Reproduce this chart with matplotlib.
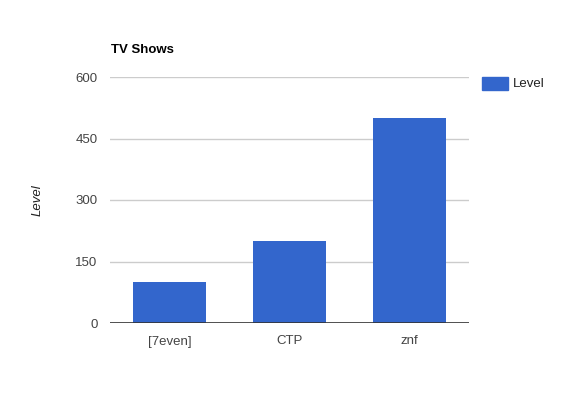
import matplotlib
matplotlib.use('Agg')
import matplotlib.pyplot as plt
from matplotlib.patches import Rectangle

shows = ['[7even]', 'CTP', 'znf']
level = [100, 200, 500]
yticks = [0, 150, 300, 450, 600]

plt.rcParams['font.family'] = ['Liberation Sans', 'DejaVu Sans']

fig = plt.figure(figsize=(5.8, 4.0), dpi=100)
ax = fig.add_axes([110 / 580, 77 / 400, 359 / 580, 246 / 400])

ax.bar(range(len(shows)), level, width=0.61, color='#3366cc', zorder=3)
ax.set_xlim(-0.5, 2.5)
ax.set_ylim(0, 600)
ax.set_yticks(yticks)
ax.set_yticklabels([str(v) for v in yticks])
ax.set_xticks(range(len(shows)))
ax.set_xticklabels(shows)
ax.grid(axis='y', color='#cccccc', linewidth=1, zorder=0)
ax.axhline(0, color='#333333', linewidth=1.2, zorder=4)
for s in ax.spines.values():
    s.set_visible(False)
ax.tick_params(length=0, labelsize=9.5, colors='#444444')
ax.tick_params(axis='y', pad=9)
ax.tick_params(axis='x', pad=9)

fig.text(111 / 580, 1 - 50 / 400, 'TV Shows', fontsize=9.5, fontweight='bold',
         color='#000000', va='center', ha='left')
fig.text(38 / 580, 1 - 200 / 400, 'Level', fontsize=9.5, style='italic',
         color='#222222', rotation=90, va='center', ha='center')

# legend
fig.patches.append(Rectangle((482 / 580, 1 - 90 / 400), 26 / 580, 13 / 400,
                             transform=fig.transFigure, color='#3366cc'))
fig.text(513 / 580, 1 - 84 / 400, 'Level', fontsize=9.5, color='#222222',
         va='center', ha='left')

fig.savefig('out.png', dpi=100)
